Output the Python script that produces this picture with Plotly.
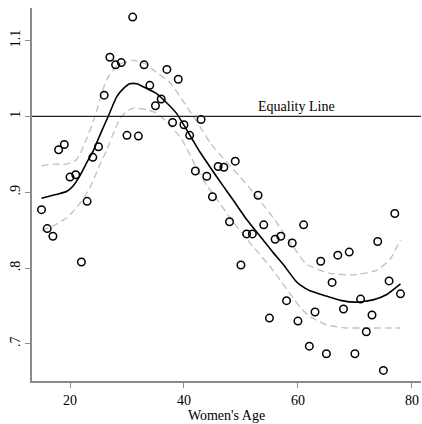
import plotly.graph_objects as go

# Scatter data: women's age and ratio
ages = list(range(15, 79))
ratios = [0.877, 0.852, 0.842, 0.956, 0.963, 0.920, 0.923, 0.808, 0.888, 0.946,
          0.960, 1.028, 1.078, 1.068, 1.071, 0.975, 1.131, 0.974, 1.068, 1.041,
          1.014, 1.023, 1.062, 0.992, 1.049, 0.989, 0.975, 0.928, 0.996, 0.921,
          0.894, 0.934, 0.933, 0.861, 0.941, 0.804, 0.845, 0.845, 0.896, 0.857,
          0.734, 0.838, 0.842, 0.757, 0.833, 0.730, 0.857, 0.697, 0.742, 0.809,
          0.687, 0.781, 0.817, 0.746, 0.821, 0.687, 0.759, 0.716, 0.738, 0.835,
          0.665, 0.783, 0.872, 0.766]

# Smoothed fit
fit_age = [15, 17.5, 19.4, 20.5, 21.75, 23, 24.1, 25.4, 26.7, 28.2, 29.4, 30.5, 31.7,
           33.4, 35, 36.4, 38.7, 40.5, 42.8, 44.6, 46.9, 48.6, 51, 53.9, 55.7, 57.4,
           59.5, 60.5, 62.1, 65, 67.7, 70.3, 73.2, 75.6, 78]
fit_val = [0.892, 0.897, 0.901, 0.908, 0.922, 0.940, 0.955, 0.978, 1.000, 1.026, 1.037,
           1.043, 1.043, 1.037, 1.031, 1.022, 1.004, 0.982, 0.953, 0.933, 0.908, 0.890,
           0.864, 0.837, 0.820, 0.805, 0.784, 0.777, 0.770, 0.763, 0.757, 0.755, 0.758,
           0.765, 0.779]

# Upper confidence band
up_age = [15, 17, 19.4, 21, 21.75, 23, 24.1, 26.4, 28.2, 31.1, 33.4, 34.5, 37.5, 40.5,
          42.8, 44.6, 46.9, 51.6, 55.7, 59.2, 61.5, 65.6, 69.7, 73.8, 76.1, 78]
up_val = [0.935, 0.937, 0.937, 0.942, 0.950, 0.972, 0.994, 1.048, 1.067, 1.074, 1.069,
          1.062, 1.045, 1.013, 0.987, 0.965, 0.945, 0.905, 0.866, 0.828, 0.805, 0.793,
          0.791, 0.797, 0.811, 0.837]

# Lower confidence band
lo_age = [15, 17.1, 19.4, 20.6, 22, 23.5, 25, 26.4, 28, 28.8, 30, 31.1, 33.4, 35, 37,
          39.6, 42.2, 44, 45.7, 48.1, 51.6, 55.1, 56.8, 59.2, 60.4, 62.1, 63.9, 65,
          68.5, 72, 78]
lo_val = [0.849, 0.856, 0.866, 0.875, 0.888, 0.906, 0.932, 0.955, 0.985, 0.998, 1.007,
          1.011, 1.009, 1.005, 0.993, 0.970, 0.932, 0.909, 0.892, 0.866, 0.833, 0.802,
          0.785, 0.760, 0.748, 0.736, 0.729, 0.725, 0.721, 0.721, 0.721]

equality_value = 1.0
y_tickvals = [0.7, 0.8, 0.9, 1.0, 1.1]
y_ticktext = [".7", ".8", ".9", "1", "1.1"]
x_tickvals = [20, 40, 60, 80]

FONT = "Liberation Serif, Times New Roman, serif"
band_color = "#c4c4c4"

fig = go.Figure()
fig.add_trace(go.Scatter(x=up_age, y=up_val, mode="lines",
                         line=dict(color=band_color, width=1.4, dash="7px,4px", shape="spline", smoothing=0.5),
                         hoverinfo="skip", showlegend=False))
fig.add_trace(go.Scatter(x=lo_age, y=lo_val, mode="lines",
                         line=dict(color=band_color, width=1.4, dash="7px,4px", shape="spline", smoothing=0.5),
                         hoverinfo="skip", showlegend=False))
fig.add_trace(go.Scatter(x=fit_age, y=fit_val, mode="lines",
                         line=dict(color="black", width=1.6, shape="spline", smoothing=0.5),
                         showlegend=False))
fig.add_trace(go.Scatter(x=ages, y=ratios, mode="markers",
                         marker=dict(symbol="circle-open", size=7.5, color="black",
                                     line=dict(width=1.5, color="black")),
                         showlegend=False))

fig.add_shape(type="line", xref="paper", x0=0, x1=1, yref="y",
              y0=equality_value, y1=equality_value,
              line=dict(color="#222222", width=1.3))
fig.add_annotation(x=59.8, y=equality_value, xref="x", yref="y", text="Equality Line",
                   showarrow=False, yanchor="bottom", yshift=0,
                   font=dict(family=FONT, size=14, color="black"))

fig.update_layout(
    width=422, height=424,
    margin=dict(l=32, r=1, t=8, b=43),
    paper_bgcolor="white", plot_bgcolor="white",
    font=dict(family=FONT, size=14, color="black"),
    xaxis=dict(range=[13.33, 81.6], tickvals=x_tickvals, showgrid=False, zeroline=False,
               showline=True, linecolor="#8a8a8a", linewidth=1.5,
               ticks="outside", ticklen=5, tickcolor="#8a8a8a", tickwidth=1.2,
               title=dict(text="Women's Age", standoff=2, font=dict(family=FONT, size=14))),
    yaxis=dict(range=[0.651, 1.143], tickvals=y_tickvals, ticktext=y_ticktext,
               tickangle=-90, showgrid=False, zeroline=False,
               showline=True, linecolor="#8a8a8a", linewidth=1.5,
               ticks="outside", ticklen=5, tickcolor="#8a8a8a", tickwidth=1.2),
)

fig.write_html("out.html")
